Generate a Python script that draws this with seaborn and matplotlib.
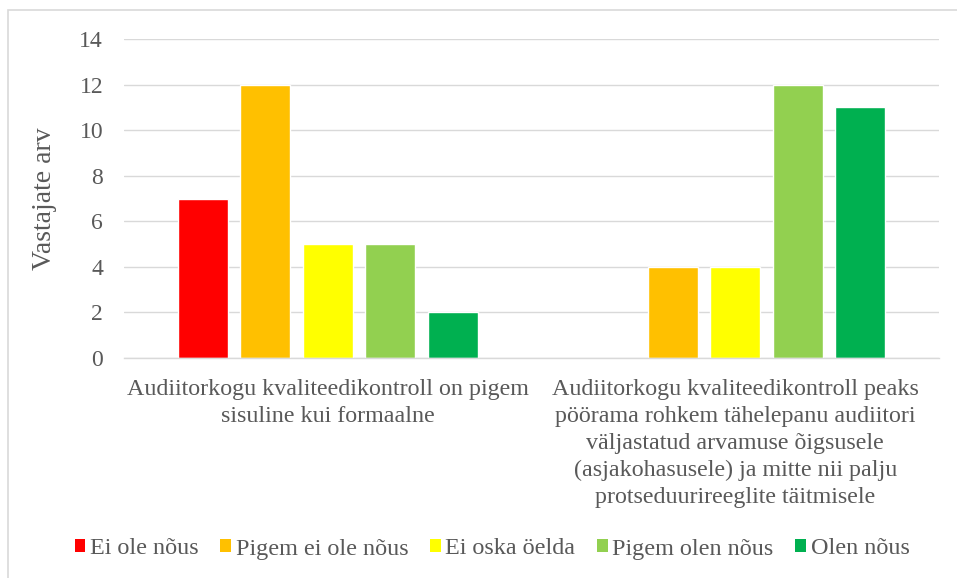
import matplotlib
matplotlib.use("Agg")
import matplotlib.pyplot as plt
import seaborn as sns
import pandas as pd
from matplotlib.patches import Rectangle, Patch

categories = [
    "Audiitorkogu kvaliteedikontroll on pigem\nsisuline kui formaalne",
    "Audiitorkogu kvaliteedikontroll peaks\npöörama rohkem tähelepanu audiitori\nväljastatud arvamuse õigsusele\n(asjakohasusele) ja mitte nii palju\nprotseduurireeglite täitmisele",
]
series = ["Ei ole nõus", "Pigem ei ole nõus", "Ei oska öelda", "Pigem olen nõus", "Olen nõus"]
ei_ole_nous = [7, 0]
pigem_ei_ole_nous = [12, 4]
ei_oska_oelda = [5, 4]
pigem_olen_nous = [5, 12]
olen_nous = [2, 11]
colors = ["#FF0000", "#FFC000", "#FFFF00", "#92D050", "#00B050"]
yticks = [0, 2, 4, 6, 8, 10, 12, 14]

values = [ei_ole_nous, pigem_ei_ole_nous, ei_oska_oelda, pigem_olen_nous, olen_nous]
rows = []
for s, vals in zip(series, values):
    for c, v in zip(categories, vals):
        rows.append({"cat": c, "series": s, "value": v})
df = pd.DataFrame(rows)

sns.set_theme(style="white")
plt.rcParams["font.family"] = ["Liberation Serif", "DejaVu Serif"]
textc = "#595959"

fig = plt.figure(figsize=(9.57, 5.78), dpi=100)
W, H = 957, 578
ax = fig.add_axes([124 / W, 1 - 358 / H, (939 - 124) / W, (358 - 39) / H])

sns.barplot(data=df, x="cat", y="value", hue="series", hue_order=series,
            palette=colors, order=categories, width=0.767, gap=0.2,
            saturation=1, ax=ax, legend=False)

ax.set_ylim(0, 14)
ax.set_yticks(yticks)
ax.set_yticklabels([str(t) for t in yticks])
ax.grid(axis="y", color="#D9D9D9", linewidth=1)
ax.set_axisbelow(True)
for sp in ["top", "right", "left"]:
    ax.spines[sp].set_visible(False)
ax.spines["bottom"].set_color("#D9D9D9")
ax.spines["bottom"].set_linewidth(1)
ax.tick_params(axis="y", length=0, pad=15, labelsize=17, labelcolor=textc)
ax.tick_params(axis="x", length=0, pad=15, labelsize=17.3, labelcolor=textc)
for lbl in ax.get_xticklabels():
    lbl.set_linespacing(1.37)
ax.set_xlabel("")
ax.set_ylabel("Vastajate arv", fontsize=20, color=textc)
ax.yaxis.set_label_coords(-(124 - 57) / (939 - 124), 0.5)

handles = [Patch(facecolor=c, edgecolor="none") for c in colors]
fig.legend(handles, series, loc="center", bbox_to_anchor=(492 / W, 1 - 549 / H),
           ncol=5, frameon=False, fontsize=17.4, labelcolor=textc,
           handlelength=0.45, handleheight=0.45, handletextpad=0.2, columnspacing=0.88)

fig.patches.append(Rectangle((8 / W, -0.1), 1.2, 1 - 10 / H + 0.1, transform=fig.transFigure,
                             fill=False, edgecolor="#D9D9D9", linewidth=1.2))

fig.savefig("out.png", dpi=100)
